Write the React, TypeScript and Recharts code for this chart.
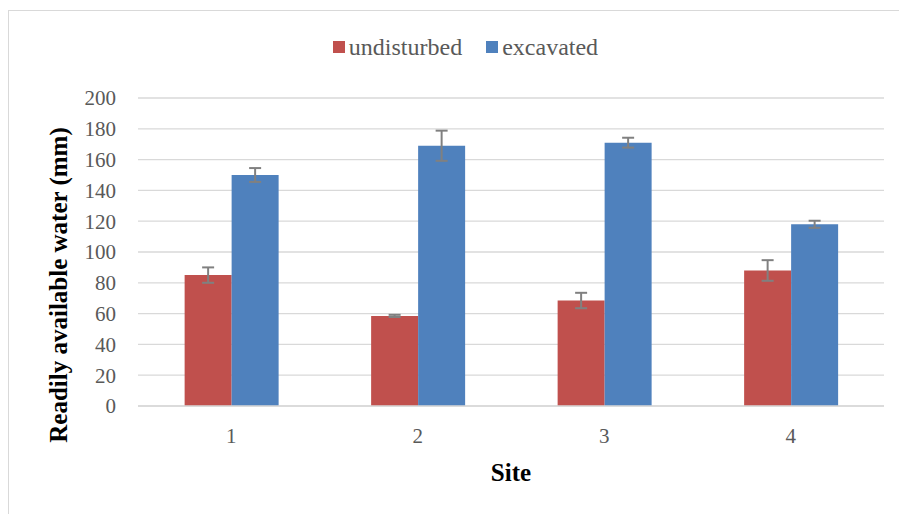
import React from 'react';
import { BarChart, Bar, XAxis, YAxis, CartesianGrid, ErrorBar, Legend, Label } from 'recharts';

const sites = ['1', '2', '3', '4'];
const undisturbed = [85, 58.5, 68.5, 88];
const undisturbedErr = [5, 0.7, 5, 6.7];
const excavated = [150, 169, 171, 118];
const excavatedErr = [4.5, 9.8, 3.2, 2.3];
const yTicks = [0, 20, 40, 60, 80, 100, 120, 140, 160, 180, 200];

const data = sites.map((s, i) => ({
  site: s,
  undisturbed: undisturbed[i],
  undisturbedErr: undisturbedErr[i],
  excavated: excavated[i],
  excavatedErr: excavatedErr[i],
}));

const RED = '#C0504D';
const BLUE = '#4F81BD';
const FONT = '"Liberation Serif", "Times New Roman", serif';

const LegendContent = () => (
  <div
    style={{
      display: 'flex',
      justifyContent: 'center',
      alignItems: 'center',
      paddingLeft: 32,
      fontFamily: FONT,
      fontSize: 24,
      color: '#595959',
      lineHeight: '24px',
    }}
  >
    <span style={{ display: 'inline-block', width: 12, height: 12, background: RED, marginRight: 4 }} />
    <span style={{ marginRight: 24 }}>undisturbed</span>
    <span style={{ display: 'inline-block', width: 12, height: 12, background: BLUE, marginRight: 4 }} />
    <span>excavated</span>
  </div>
);

export default function App() {
  return (
    <div style={{ position: 'absolute', left: 0, top: 0, width: 899, height: 514, overflow: 'hidden', background: '#fff' }}>
      <div
        style={{
          position: 'absolute',
          left: 8,
          top: 10,
          width: 920,
          height: 540,
          border: '1px solid #d9d9d9',
        }}
      />
      <div style={{ position: 'absolute', left: 0, top: 0 }}>
        <BarChart
          width={899}
          height={514}
          data={data}
          margin={{ top: 98, right: 15, bottom: 0, left: 0 }}
          barCategoryGap="25%"
          barGap={0}
        >
          <CartesianGrid vertical={false} stroke="#d9d9d9" strokeWidth={1.3} />
          <XAxis
            dataKey="site"
            height={108}
            axisLine={{ stroke: '#d9d9d9', strokeWidth: 1.3 }}
            tickLine={false}
            tickMargin={16}
            tick={{ fill: '#595959', fontSize: 21, fontFamily: FONT }}
          >
            <Label
              content={(props: any) => {
                const vb = props.viewBox || {};
                return (
                  <text
                    x={vb.x + vb.width / 2}
                    y={vb.y + 66}
                    textAnchor="middle"
                    dominantBaseline="central"
                    fontFamily={FONT}
                    fontWeight="bold"
                    fontSize={25}
                    fill="#000"
                  >
                    Site
                  </text>
                );
              }}
            />
          </XAxis>
          <YAxis
            width={138}
            domain={[0, 200]}
            ticks={yTicks}
            axisLine={false}
            tickLine={false}
            tickMargin={16}
            tick={{ fill: '#595959', fontSize: 21, fontFamily: FONT }}
          >
            <Label
              content={(props: any) => {
                const vb = props.viewBox || {};
                const cx = vb.x + 58;
                const cy = vb.y + vb.height / 2 + 33;
                return (
                  <text
                    x={cx}
                    y={cy}
                    transform={`rotate(-90, ${cx}, ${cy})`}
                    textAnchor="middle"
                    dominantBaseline="central"
                    fontFamily={FONT}
                    fontWeight="bold"
                    fontSize={25}
                    fill="#000"
                  >
                    Readily available water (mm)
                  </text>
                );
              }}
            />
          </YAxis>
          <Legend
            layout="horizontal"
            verticalAlign="middle"
            align="center"
            wrapperStyle={{ top: 35, left: 0, width: 899 }}
            content={<LegendContent />}
          />
          <Bar dataKey="undisturbed" fill={RED} isAnimationActive={false}>
            <ErrorBar dataKey="undisturbedErr" width={6} stroke="#808080" strokeWidth={2} isAnimationActive={false} />
          </Bar>
          <Bar dataKey="excavated" fill={BLUE} isAnimationActive={false}>
            <ErrorBar dataKey="excavatedErr" width={6} stroke="#808080" strokeWidth={2} isAnimationActive={false} />
          </Bar>
        </BarChart>
      </div>
    </div>
  );
}
